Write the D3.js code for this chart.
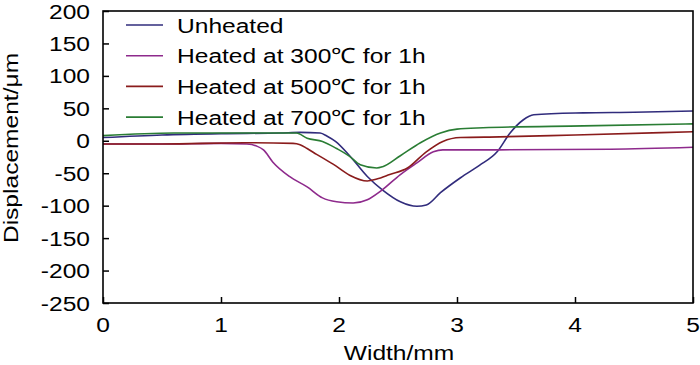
<!DOCTYPE html>
<html>
<head>
<meta charset="utf-8">
<script src="https://cdn.jsdelivr.net/npm/d3@7"></script>
<style>
  html, body { margin: 0; padding: 0; background: #fff; }
  text { font-family: "Liberation Sans", Arial, sans-serif; fill: #000; }
</style>
</head>
<body>
<svg id="chart" width="700" height="365"></svg>
<script>
const seriesNames = ["Unheated", "Heated at 300\u2103 for 1h", "Heated at 500\u2103 for 1h", "Heated at 700\u2103 for 1h"];
const seriesColors = ["#312c7c", "#8e2a8c", "#8a1c1c", "#2a7d34"];

const unheatedX = [0, 0.5, 1.0, 1.5, 1.67, 1.84, 1.9, 1.97, 2.09, 2.24, 2.37, 2.52, 2.66, 2.74, 2.86, 3.03, 3.19, 3.34, 3.45, 3.56, 3.65, 4.07, 4.5, 5];
const unheatedY = [5, 9, 11, 12, 13, 12, 7, -1, -23, -55, -76, -94, -101, -99, -80, -57, -38, -17, 12, 32, 40, 43, 44, 46];

const h300X = [0, 0.5, 1.0, 1.22, 1.3, 1.36, 1.44, 1.58, 1.73, 1.86, 1.98, 2.12, 2.24, 2.35, 2.52, 2.66, 2.8, 2.88, 3.36, 4.3, 5];
const h300Y = [-5, -5, -4, -5, -8, -14, -33, -55, -71, -88, -94, -96, -91, -78, -52, -34, -17, -14, -14, -13, -10];

const h500X = [0, 0.5, 1.19, 1.61, 1.67, 1.73, 1.81, 1.95, 2.09, 2.24, 2.32, 2.43, 2.58, 2.74, 2.88, 3.03, 3.36, 4.0, 5];
const h500Y = [-5, -5, -3, -4, -6, -12, -21, -36, -53, -62, -59, -52, -42, -17, -1, 5, 6, 9, 14];

const h700X = [0, 0.6, 1.0, 1.64, 1.73, 1.86, 1.98, 2.09, 2.18, 2.32, 2.37, 2.52, 2.69, 2.86, 3.0, 3.22, 4.07, 5];
const h700Y = [8, 12, 12, 12, 4, -1, -12, -24, -37, -42, -40, -23, -3, 12, 18, 20, 23, 26];

const xTicks = [0, 1, 2, 3, 4, 5];
const yTicks = [200, 150, 100, 50, 0, -50, -100, -150, -200, -250];
const xTitle = "Width/mm";
const yTitle = "Displacement/\u03bcm";

const seriesX = [unheatedX, h300X, h500X, h700X];
const seriesY = [unheatedY, h300Y, h500Y, h700Y];

const svg = d3.select("#chart");
const L = 103, R = 693, T = 11, B = 303;
const SX = 1.17, FS = 21;

const x = d3.scaleLinear().domain([0, 5]).range([L, R]);
const y = d3.scaleLinear().domain([-250, 200]).range([B, T]);

// series lines
const line = d3.line().x(d => x(d[0])).y(d => y(d[1])).curve(d3.curveMonotoneX);
seriesX.forEach((xs, i) => {
  const pts = xs.map((v, j) => [v, seriesY[i][j]]);
  svg.append("path").datum(pts)
    .attr("d", line)
    .attr("fill", "none")
    .attr("stroke", seriesColors[i])
    .attr("stroke-width", 1.6);
});

// frame
svg.append("rect").attr("x", L).attr("y", T).attr("width", R - L).attr("height", B - T)
  .attr("fill", "none").attr("stroke", "#000").attr("stroke-width", 1.6);

// ticks (inward)
const tickLen = 6;
const yAxis = svg.append("g").attr("transform", `translate(${L},0)`)
  .call(d3.axisRight(y).tickValues(yTicks).tickSize(tickLen).tickFormat(""));
yAxis.select(".domain").remove();
yAxis.selectAll("line").attr("stroke", "#000").attr("stroke-width", 1.5);

const xAxis = svg.append("g").attr("transform", `translate(0,${B})`)
  .call(d3.axisTop(x).tickValues(xTicks).tickSize(tickLen).tickFormat(""));
xAxis.select(".domain").remove();
xAxis.selectAll("line").attr("stroke", "#000").attr("stroke-width", 1.5);

// tick labels
yTicks.forEach(v => {
  svg.append("text")
    .attr("transform", `translate(90,${y(v) + 7.5}) scale(${SX},1)`)
    .attr("text-anchor", "end")
    .attr("font-size", FS)
    .text(v);
});
xTicks.forEach(v => {
  svg.append("text")
    .attr("transform", `translate(${x(v)},332) scale(${SX},1)`)
    .attr("text-anchor", "middle")
    .attr("font-size", FS)
    .text(v);
});

// axis titles
svg.append("text")
  .attr("transform", `translate(399,360) scale(${SX},1)`)
  .attr("text-anchor", "middle")
  .attr("font-size", FS)
  .text(xTitle);
svg.append("text")
  .attr("transform", `translate(18,148) rotate(-90) scale(${SX},1)`)
  .attr("text-anchor", "middle")
  .attr("font-size", FS)
  .text(yTitle);

// legend
const legY0 = 25, legDY = 30.7;
seriesNames.forEach((name, i) => {
  const ly = legY0 + i * legDY;
  svg.append("line").attr("x1", 126).attr("x2", 163).attr("y1", ly).attr("y2", ly)
    .attr("stroke", seriesColors[i]).attr("stroke-width", 1.6);
  svg.append("text")
    .attr("transform", `translate(177,${ly + 7.5}) scale(${SX},1)`)
    .attr("font-size", FS)
    .text(name);
});
</script>
</body>
</html>
